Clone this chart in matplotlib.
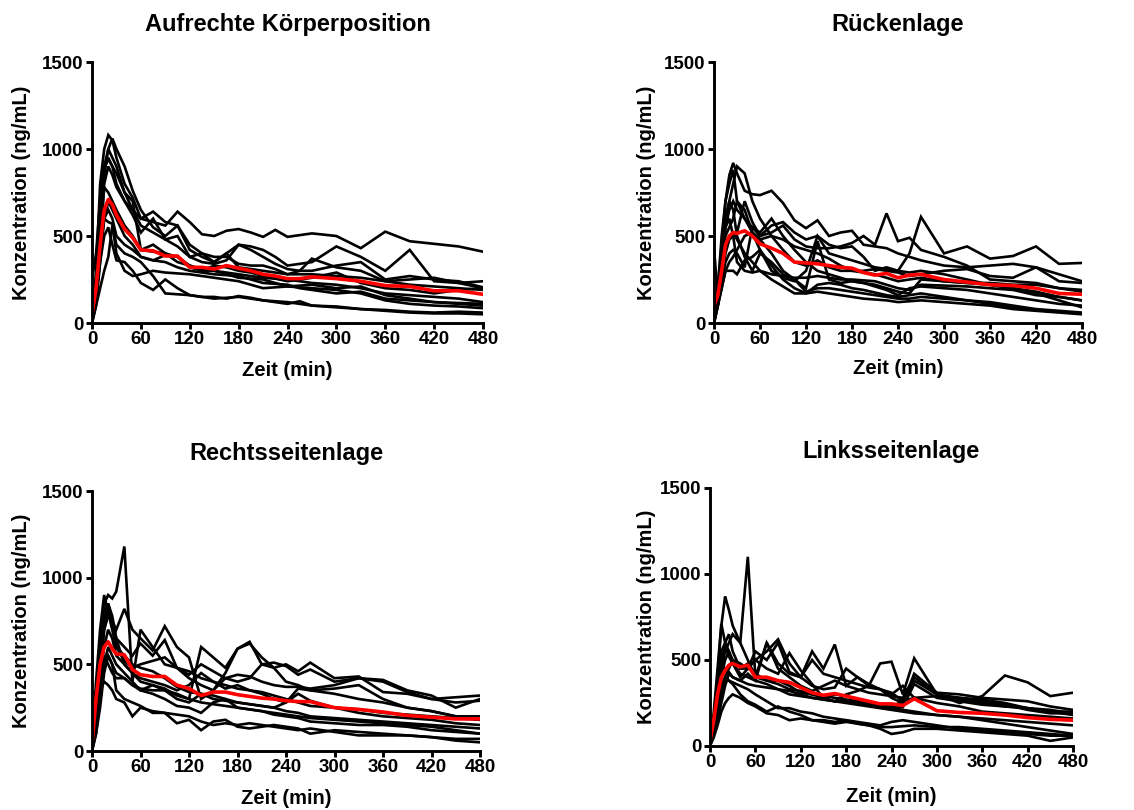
import matplotlib
matplotlib.use("Agg")
import matplotlib.pyplot as plt

plt.rcParams['font.family'] = ['Liberation Sans', 'DejaVu Sans']
plt.rcParams['font.weight'] = 'bold'

# sampling times (min)
time = [0, 5, 10, 15, 20, 25, 30, 40, 50, 60, 75, 90, 105, 120, 135, 150, 165, 180,
        195, 210, 225, 240, 255, 270, 300, 330, 360, 390, 420, 450, 480]

# Aufrechte Körperposition
upright = [
    [0, 200, 600, 880, 950, 900, 800, 700, 650, 600, 580, 560, 640, 580, 510, 500, 530, 540, 520, 495, 535, 495, 505, 515, 500, 430, 525, 470, 455, 440, 410],
    [20, 250, 700, 900, 1000, 950, 900, 750, 650, 560, 520, 480, 440, 380, 350, 340, 360, 450, 440, 420, 380, 330, 340, 350, 440, 380, 300, 420, 240, 230, 200],
    [10, 300, 800, 1000, 1080, 1050, 950, 800, 720, 600, 640, 580, 560, 420, 380, 350, 400, 450, 420, 380, 340, 310, 300, 300, 330, 350, 250, 270, 250, 240, 205],
    [30, 200, 600, 850, 1000, 1060, 1000, 900, 760, 650, 550, 500, 560, 450, 400, 380, 380, 340, 330, 330, 310, 280, 300, 370, 320, 300, 240, 250, 260, 230, 240],
    [0, 150, 500, 800, 900, 850, 780, 700, 620, 520, 600, 480, 500, 380, 400, 350, 400, 320, 310, 300, 290, 280, 280, 280, 270, 260, 240, 220, 210, 200, 190],
    [0, 150, 450, 780, 750, 700, 650, 560, 500, 420, 410, 400, 350, 330, 310, 300, 290, 280, 270, 260, 255, 250, 240, 230, 220, 200, 170, 160, 150, 140, 120],
    [0, 100, 350, 600, 700, 650, 600, 500, 450, 380, 360, 350, 320, 300, 290, 280, 275, 270, 250, 230, 225, 220, 200, 190, 170, 180, 140, 130, 120, 115, 110],
    [30, 200, 450, 600, 580, 570, 400, 300, 270, 280, 300, 290, 285, 280, 270, 260, 250, 240, 220, 200, 205, 210, 205, 200, 190, 170, 130, 110, 100, 95, 85],
    [40, 150, 350, 500, 550, 450, 360, 350, 300, 230, 190, 250, 200, 160, 150, 140, 145, 150, 140, 130, 125, 120, 110, 100, 90, 80, 70, 60, 55, 55, 50],
    [0, 100, 200, 300, 380, 560, 450, 400, 380, 350, 270, 170, 165, 160, 150, 150, 140, 155, 145, 130, 120, 110, 125, 100, 95, 80, 75, 65, 60, 65, 60],
    [250, 400, 700, 900, 940, 900, 860, 750, 700, 420, 450, 400, 380, 330, 300, 330, 320, 300, 290, 270, 255, 240, 250, 260, 290, 230, 200, 190, 170, 190, 200],
    [0, 150, 400, 600, 650, 600, 500, 450, 420, 380, 360, 390, 380, 320, 300, 300, 280, 260, 255, 250, 230, 210, 215, 220, 200, 210, 160, 140, 120, 110, 100],
]
upright_mean = [50, 200, 450, 650, 710, 680, 620, 540, 490, 420, 415, 385, 385, 320, 320, 310, 330, 315,
                300, 280, 270, 255, 255, 265, 255, 240, 215, 210, 185, 185, 165]

# Rückenlage
supine = [
    [20, 200, 450, 700, 850, 920, 860, 760, 740, 735, 760, 690, 590, 545, 590, 500, 520, 530, 450, 440, 430, 400, 380, 360, 330, 320, 330, 340, 320, 280, 240],
    [0, 150, 350, 550, 650, 700, 650, 600, 550, 500, 520, 560, 480, 440, 430, 430, 440, 460, 500, 450, 630, 470, 490, 420, 380, 330, 250, 240, 230, 200, 190],
    [0, 100, 250, 400, 480, 500, 520, 700, 580, 500, 560, 580, 520, 480, 500, 450, 430, 440, 380, 300, 320, 300, 400, 610, 400, 440, 370, 385, 440, 340, 345],
    [430, 150, 300, 600, 700, 800, 900, 860, 700, 600, 500, 420, 350, 330, 360, 320, 300, 300, 300, 310, 300, 290, 270, 280, 300, 310, 270, 260, 320, 240, 230],
    [0, 200, 500, 700, 800, 880, 700, 600, 520, 480, 400, 300, 250, 200, 470, 250, 230, 240, 230, 220, 200, 180, 170, 250, 240, 230, 230, 220, 220, 200, 180],
    [0, 150, 300, 450, 500, 520, 480, 400, 350, 300, 280, 270, 260, 260, 270, 260, 250, 250, 245, 240, 220, 200, 190, 220, 215, 210, 200, 190, 160, 150, 130],
    [0, 100, 250, 350, 400, 420, 400, 320, 550, 520, 600, 500, 420, 350, 300, 280, 260, 240, 230, 210, 190, 160, 200, 210, 200, 190, 170, 150, 130, 110, 100],
    [0, 150, 400, 600, 700, 650, 500, 380, 300, 400, 350, 280, 250, 180, 200, 200, 190, 180, 170, 160, 150, 140, 140, 150, 140, 130, 120, 100, 80, 70, 60],
    [20, 200, 400, 550, 600, 500, 350, 300, 290, 300, 250, 210, 170, 170, 220, 230, 220, 200, 190, 175, 160, 150, 160, 170, 150, 130, 110, 90, 75, 65, 55],
    [0, 100, 200, 300, 350, 380, 420, 500, 520, 480, 500, 480, 440, 420, 400, 370, 330, 300, 290, 280, 260, 240, 250, 260, 240, 230, 220, 200, 180, 150, 130],
    [0, 150, 350, 500, 550, 600, 700, 650, 520, 420, 300, 260, 240, 300, 500, 400, 380, 360, 340, 320, 310, 300, 290, 300, 280, 250, 220, 200, 170, 130, 90],
    [30, 100, 200, 300, 300, 300, 280, 360, 380, 420, 330, 250, 200, 170, 180, 170, 160, 150, 140, 135, 130, 120, 125, 130, 120, 110, 100, 80, 70, 60, 50],
]
supine_mean = [100, 160, 300, 450, 500, 520, 515, 530, 500, 455, 430, 400, 350, 345, 340, 330, 320, 315,
               290, 275, 285, 260, 275, 280, 250, 235, 220, 215, 200, 170, 165]

# Rechtsseitenlage
right_side = [
    [0, 300, 600, 850, 900, 880, 920, 1180, 400, 700, 600, 500, 480, 420, 380, 350, 450, 590, 630, 500, 480, 400, 380, 350, 330, 300, 280, 250, 230, 200, 180],
    [20, 400, 700, 900, 800, 750, 700, 820, 700, 650, 580, 720, 600, 540, 300, 350, 420, 400, 420, 500, 510, 490, 440, 470, 400, 420, 410, 350, 320, 250, 300],
    [0, 200, 500, 750, 850, 780, 650, 600, 550, 620, 550, 640, 480, 460, 420, 400, 380, 360, 350, 340, 320, 300, 280, 260, 250, 240, 220, 210, 200, 190, 180],
    [0, 150, 400, 600, 700, 650, 550, 500, 450, 400, 380, 360, 320, 300, 600, 540, 480, 590, 620, 540, 480, 500, 460, 510, 420, 430, 340, 330, 300, 280, 290],
    [0, 100, 300, 500, 600, 550, 500, 450, 400, 350, 380, 350, 300, 280, 330, 320, 300, 280, 270, 260, 250, 280, 330, 290, 250, 220, 200, 190, 180, 160, 150],
    [0, 200, 400, 550, 500, 450, 420, 420, 380, 360, 350, 350, 330, 300, 280, 270, 260, 250, 240, 230, 220, 210, 200, 190, 180, 170, 160, 150, 140, 120, 100],
    [40, 300, 350, 400, 380, 350, 300, 280, 200, 250, 230, 220, 160, 180, 120, 170, 180, 140, 130, 140, 150, 140, 130, 100, 120, 110, 100, 90, 80, 60, 50],
    [0, 100, 250, 450, 550, 500, 350, 300, 280, 260, 220, 220, 210, 200, 170, 150, 160, 150, 160, 150, 140, 130, 120, 130, 110, 90, 90, 90, 80, 70, 70],
    [0, 150, 400, 700, 800, 700, 600, 550, 500, 480, 460, 420, 370, 340, 330, 300, 290, 280, 270, 260, 250, 230, 220, 200, 190, 180, 170, 160, 150, 140, 130],
    [0, 200, 500, 700, 780, 750, 650, 500, 450, 420, 400, 380, 350, 380, 450, 400, 360, 380, 350, 330, 300, 280, 360, 350, 360, 380, 300, 250, 230, 200, 200],
    [0, 300, 600, 800, 850, 750, 600, 520, 480, 500, 520, 540, 480, 440, 500, 460, 420, 440, 430, 400, 380, 370, 370, 360, 380, 420, 400, 340, 300, 310, 320],
    [0, 150, 350, 500, 550, 500, 450, 420, 380, 350, 330, 300, 260, 250, 220, 280, 300, 250, 240, 230, 210, 200, 190, 170, 160, 150, 150, 140, 120, 110, 100],
]
right_side_mean = [40, 300, 500, 600, 630, 590, 560, 555, 470, 440, 430, 430, 380, 360, 320, 340, 340, 325,
                   315, 305, 300, 290, 285, 285, 250, 240, 225, 205, 195, 185, 185]

# Linksseitenlage
left_side = [
    [0, 150, 400, 700, 870, 790, 700, 600, 500, 400, 380, 360, 330, 320, 300, 280, 300, 290, 270, 260, 240, 230, 260, 280, 250, 230, 200, 190, 180, 170, 160],
    [0, 100, 300, 450, 550, 600, 650, 600, 1100, 400, 600, 450, 400, 350, 320, 350, 380, 350, 330, 310, 300, 290, 280, 400, 300, 270, 250, 230, 220, 200, 200],
    [30, 100, 200, 400, 500, 550, 500, 450, 450, 500, 550, 620, 480, 400, 550, 450, 590, 350, 400, 350, 480, 490, 300, 510, 300, 250, 290, 410, 370, 290, 310],
    [0, 200, 450, 710, 600, 550, 480, 400, 450, 500, 450, 420, 540, 440, 360, 280, 260, 300, 320, 350, 330, 280, 250, 420, 310, 300, 280, 270, 260, 230, 210],
    [0, 100, 250, 400, 450, 430, 400, 380, 420, 380, 600, 480, 420, 400, 500, 420, 400, 380, 360, 340, 330, 310, 260, 380, 300, 280, 260, 240, 210, 190, 190],
    [0, 80, 150, 250, 350, 420, 400, 380, 360, 350, 340, 330, 320, 300, 280, 270, 260, 260, 250, 240, 230, 220, 210, 200, 180, 170, 160, 150, 140, 130, 120],
    [0, 50, 120, 200, 250, 280, 300, 280, 250, 230, 190, 180, 150, 160, 150, 150, 140, 150, 130, 120, 100, 70, 80, 100, 100, 90, 80, 70, 60, 30, 50],
    [0, 100, 250, 350, 380, 380, 370, 350, 330, 300, 260, 220, 220, 200, 190, 170, 160, 150, 140, 130, 120, 140, 150, 140, 120, 100, 90, 80, 70, 60, 60],
    [0, 100, 300, 500, 580, 520, 480, 420, 400, 380, 360, 330, 300, 290, 280, 270, 260, 250, 240, 230, 220, 210, 200, 190, 180, 170, 150, 130, 110, 90, 70],
    [0, 150, 350, 550, 600, 650, 550, 450, 480, 420, 380, 380, 350, 310, 300, 290, 280, 270, 260, 250, 240, 230, 225, 360, 280, 260, 240, 230, 220, 200, 180],
    [0, 80, 200, 350, 400, 450, 500, 480, 450, 550, 500, 600, 430, 400, 350, 330, 340, 450, 400, 360, 330, 300, 350, 280, 290, 280, 270, 250, 220, 210, 190],
    [20, 100, 200, 300, 400, 380, 360, 300, 260, 240, 200, 230, 200, 180, 150, 140, 130, 140, 130, 120, 110, 110, 115, 120, 110, 110, 100, 90, 80, 70, 60],
]
left_side_mean = [30, 150, 300, 400, 440, 470, 480, 460, 470, 400, 400, 380, 370, 340, 310, 295, 305, 290,
                  275, 260, 245, 245, 235, 275, 205, 195, 190, 180, 165, 155, 150]

titles = ["Aufrechte Körperposition", "Rückenlage", "Rechtsseitenlage", "Linksseitenlage"]
subjects = [upright, supine, right_side, left_side]
means = [upright_mean, supine_mean, right_side_mean, left_side_mean]

W, H = 1134, 810
# axes boxes in pixels: left, right, bottom(y from top), top(y from top), ylabel offset, xlabel offset
boxes = [(92, 483, 323, 62, 70, 47),
         (714, 1082, 323, 62, 67, 45),
         (92, 480, 751, 491, 70, 47),
         (710, 1073, 746, 488, 63, 51)]

fig = plt.figure(figsize=(W / 100, H / 100), dpi=100)

for title, subj, mean, (x0, x1, yb, yt, ylo, xlo) in zip(titles, subjects, means, boxes):
    ax = fig.add_axes([x0 / W, (H - yb) / H, (x1 - x0) / W, (yb - yt) / H])
    for s in subj:
        ax.plot(time, s, color='black', lw=1.9, solid_joinstyle='miter')
    ax.plot(time, mean, color='#ff0000', lw=2.6)

    ax.set_xlim(0, 480)
    ax.set_ylim(0, 1500)
    ax.set_xticks(range(0, 481, 60))
    ax.set_yticks([0, 500, 1000, 1500])
    for side in ['top', 'right']:
        ax.spines[side].set_visible(False)
    for side in ['left', 'bottom']:
        ax.spines[side].set_linewidth(2.1)
    ax.tick_params(direction='out', length=4, width=2.1, labelsize=13.5, pad=2)
    for lab in ax.get_xticklabels() + ax.get_yticklabels():
        lab.set_fontweight('bold')

    ax.set_xlabel("Zeit (min)", fontsize=14.5, fontweight='bold', va='center')
    ax.xaxis.set_label_coords(0.5, -xlo / (yb - yt))
    ax.set_ylabel("Konzentration (ng/mL)", fontsize=14.5, fontweight='bold', va='center')
    ax.yaxis.set_label_coords(-ylo / (x1 - x0), 0.5)
    ax.text(0.5, 1.143, title, transform=ax.transAxes, ha='center', va='center',
            fontsize=17, fontweight='bold')

fig.savefig("out.png", dpi=100)
